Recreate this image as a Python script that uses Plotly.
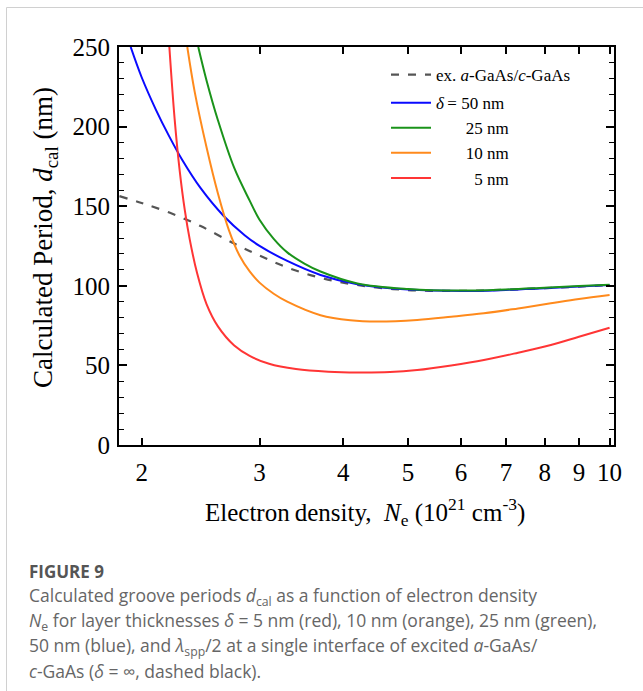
import plotly.graph_objects as go

# ---- data ----
ne_ex = [1.853, 2.0, 2.2, 2.45, 2.75, 3.0, 3.3, 3.7, 4.2, 5.0, 6.0, 7.0, 8.0, 9.0, 10.0]
d_ex = [156.3, 152, 146, 137.5, 126.5, 119, 111.5, 105, 100.5, 97.3, 96.8, 97.5, 98.5, 99.5, 100.5]

ne_50 = [1.926, 2.0, 2.1, 2.2, 2.3, 2.45, 2.65, 2.85, 3.0, 3.3, 3.7, 4.2, 5.0, 6.0, 7.0, 8.0, 9.0, 10.0]
d_50 = [250, 231, 210.7, 193.7, 179, 161.3, 144, 131.8, 125.1, 115.6, 106.8, 101, 97.6, 96.7, 97.4, 98.5, 99.5, 100.5]

ne_25 = [2.43, 2.5, 2.6, 2.75, 2.9, 3.0, 3.15, 3.3, 3.5, 3.7, 4.2, 5.0, 6.0, 7.0, 8.0, 9.0, 10.0]
d_25 = [250, 229, 204, 174, 153.5, 141.5, 129.5, 121, 114, 109, 101.5, 98, 97, 97.7, 98.8, 99.8, 100.7]

ne_10 = [2.34, 2.4, 2.5, 2.6, 2.7, 2.8, 2.9, 3.0, 3.15, 3.3, 3.7, 4.1, 4.5, 5.16, 5.8, 6.49, 7.3, 8.17, 9.0, 10.0]
d_10 = [250, 222, 187, 158, 135, 119, 109, 102, 95, 90, 81.5, 78.3, 77.5, 78.5, 80.5, 82.7, 85.8, 89, 91.7, 94.2]

ne_5 = [2.20, 2.24, 2.28, 2.32, 2.36, 2.42, 2.5, 2.6, 2.75, 2.9, 3.1, 3.4, 3.8, 4.2, 4.7, 5.16, 5.8, 6.49, 7.3, 8.17, 9.0, 10.0]
d_5 = [250, 205, 172, 147.5, 129, 108, 88.5, 74.5, 62.5, 56, 51, 47.7, 46, 45.5, 45.8, 47.1, 50, 53.4, 58, 62.8, 68, 73.7]

x_tickvals = [2, 3, 4, 5, 6, 7, 8, 9, 10]
y_tickvals = [0, 50, 100, 150, 200, 250]

NB = "\u00a0"
series = [
    (ne_ex, d_ex, "ex. <i>a</i>-GaAs/<i>c</i>-GaAs", "#555555", "8px,9px", "g1"),
    (ne_50, d_50, "<i>δ</i>\u2009=" + NB + "50 nm", "#0a0aff", "solid", "g2"),
    (ne_25, d_25, NB * 7 + "25 nm", "#1a931a", "solid", "g2"),
    (ne_10, d_10, NB * 7 + "10 nm", "#ff8a1c", "solid", "g2"),
    (ne_5, d_5, NB * 9 + "5 nm", "#ff3535", "solid", "g2"),
]

fig = go.Figure()
for xs, ys, name, color, dash, grp in series:
    fig.add_trace(go.Scatter(
        x=xs, y=ys, name=name, mode="lines", legendgroup=grp,
        line=dict(color=color, width=2.2 if dash != "solid" else 2, dash=dash,
                  shape="spline", smoothing=1.0),
    ))

SERIF = "Liberation Serif"
W, H = 643, 691
L, R, T, B = 119, 614, 47, 445


def px(xp):
    return (xp - L) / (R - L)


def py(yp):
    return (B - yp) / (B - T)


fig.update_layout(
    width=W, height=H,
    margin=dict(l=L, r=W - R, t=T, b=H - B, autoexpand=False),
    paper_bgcolor="white", plot_bgcolor="white",
    font=dict(family=SERIF, color="black"),
    showlegend=True,
    legend=dict(
        x=px(386), y=py(57), xanchor="left", yanchor="top",
        bgcolor="rgba(0,0,0,0)", font=dict(family=SERIF, size=17, color="black"),
        itemwidth=40, tracegroupgap=3,
    ),
    xaxis=dict(
        type="log", range=[0.2672, 1.0066],
        tickmode="array", tickvals=x_tickvals, ticktext=[str(v) for v in x_tickvals],
        ticks="inside", ticklen=7, tickwidth=1.5, tickcolor="black",
        showline=True, linewidth=2, linecolor="black", mirror="allticks",
        showgrid=False, zeroline=False,
        tickfont=dict(family=SERIF, size=25, color="black"),
        ticklabelstandoff=4,
    ),
    yaxis=dict(
        range=[0, 250],
        tickmode="array", tickvals=y_tickvals,
        ticks="inside", ticklen=8, tickwidth=1.5, tickcolor="black",
        minor=dict(dtick=10, ticks="inside", ticklen=5, tickwidth=1.2, tickcolor="black", showgrid=False),
        showline=True, linewidth=2, linecolor="black", mirror="allticks",
        showgrid=False, zeroline=False,
        tickfont=dict(family=SERIF, size=25, color="black"),
        ticklabelstandoff=2,
    ),
)

annotations = [
    dict(text="Calculated Period, <i>d</i><sub>cal</sub> (nm)", x=px(45), y=py(238),
         textangle=-90, font=dict(family=SERIF, size=27, color="black")),
    dict(text="Electron\u2009density,  <i>N</i><sub>e</sub> (10<sup>21</sup> cm<sup>-3</sup>)",
         x=px(365), y=py(512), font=dict(family=SERIF, size=25, color="black")),
    dict(text="<b>FIGURE 9</b>", x=px(27), y=py(571), xanchor="left",
         font=dict(family="Open Sans", size=17, color="#555555")),
]
cap_lines = [
    ("Calculated groove periods <i>d</i><sub>cal</sub> as a function of electron density", 596),
    ("<i>N</i><sub>e</sub> for layer thicknesses <i>δ</i> = 5 nm (red), 10 nm (orange), 25 nm (green),", 621),
    ("50 nm (blue), and <i>λ</i><sub>spp</sub>/2 at a single interface of excited <i>a</i>-GaAs/", 646),
    ("<i>c</i>-GaAs (<i>δ</i> = ∞, dashed black).", 671),
]
for txt, yy in cap_lines:
    annotations.append(dict(text=txt, x=px(27), y=py(yy), xanchor="left",
                            font=dict(family="Open Sans", size=17.5, color="#666666")))
for a in annotations:
    a.update(xref="paper", yref="paper", showarrow=False)
    a.setdefault("xanchor", "center")
    a.setdefault("yanchor", "middle")
fig.update_layout(annotations=annotations)

# card border (top and left)
fig.add_shape(type="line", xref="paper", yref="paper", x0=px(6.5), x1=px(660), y0=py(7.5), y1=py(7.5),
              line=dict(color="#d0d0d0", width=1))
fig.add_shape(type="line", xref="paper", yref="paper", x0=px(6.5), x1=px(6.5), y0=py(7.5), y1=py(700),
              line=dict(color="#d0d0d0", width=1))

fig.write_html("out.html")
